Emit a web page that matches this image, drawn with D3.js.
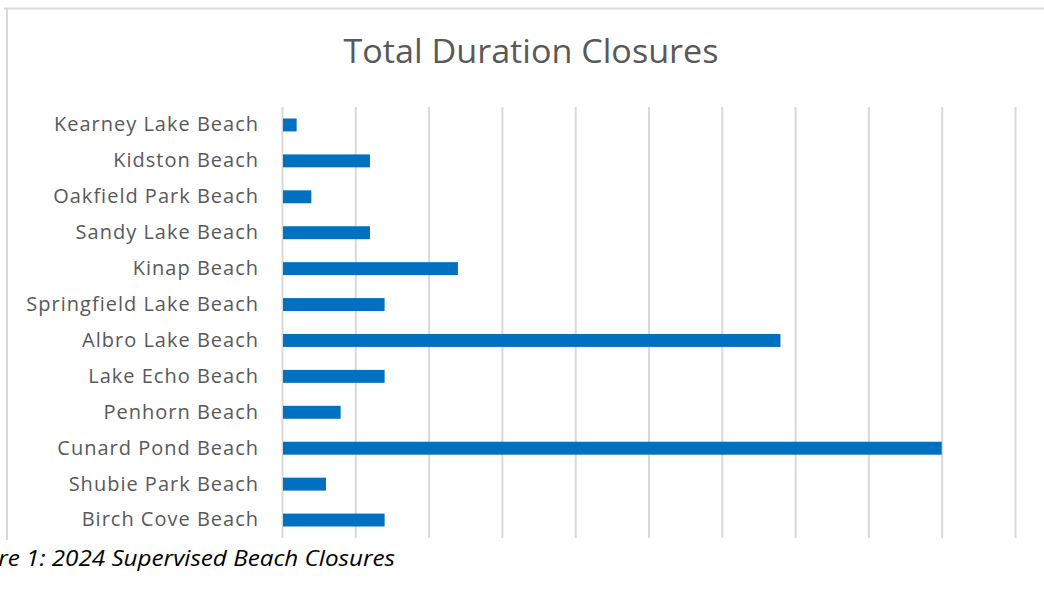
<!DOCTYPE html>
<html>
<head>
<meta charset="utf-8">
<script src="https://cdn.jsdelivr.net/npm/d3@7/dist/d3.min.js"></script>
<style>
  html, body { margin: 0; padding: 0; background: #fff; }
  svg { display: block; }
</style>
</head>
<body>
<svg id="chart" width="1044" height="592"></svg>
<script>
// Beach names, listed top to bottom
const beaches = [
  "Kearney Lake Beach", "Kidston Beach", "Oakfield Park Beach", "Sandy Lake Beach",
  "Kinap Beach", "Springfield Lake Beach", "Albro Lake Beach", "Lake Echo Beach",
  "Penhorn Beach", "Cunard Pond Beach", "Shubie Park Beach", "Birch Cove Beach"
];
// Total closure duration per beach
const durations = [1, 6, 2, 6, 12, 7, 34, 7, 4, 45, 3, 7];
// Gridline positions along the value axis
const gridTicks = [0, 5, 10, 15, 20, 25, 30, 35, 40, 45, 50];

const chartTitle = "Total Duration Closures";
const caption = "Figure 1: 2024 Supervised Beach Closures";

const svg = d3.select("#chart");
const plot = { left: 282, right: 1015, top: 107, bottom: 538 };

const x = d3.scaleLinear().domain([0, 50]).range([plot.left, plot.right]);
const y = d3.scaleBand().domain(beaches).range([plot.top, plot.bottom]).paddingInner(0.64).paddingOuter(0.32);

// Chart frame (top and left edges visible)
svg.append("line").attr("x1", 4).attr("x2", 1044).attr("y1", 8.5).attr("y2", 8.5)
  .attr("stroke", "#d9d9d9").attr("stroke-width", 2);
svg.append("line").attr("x1", 7).attr("x2", 7).attr("y1", 8).attr("y2", 540)
  .attr("stroke", "#d9d9d9").attr("stroke-width", 2);

// Title
svg.append("text")
  .attr("x", 531).attr("y", 63)
  .attr("text-anchor", "middle")
  .attr("font-family", "Open Sans, sans-serif")
  .attr("font-size", 32)
  .attr("fill", "#595959")
  .attr("textLength", 375)
  .attr("lengthAdjust", "spacingAndGlyphs")
  .text(chartTitle);

// Vertical gridlines
const gridAxis = d3.axisBottom(x).tickValues(gridTicks).tickSize(-(plot.bottom - plot.top)).tickFormat("");
const grid = svg.append("g").attr("transform", `translate(0,${plot.bottom})`).call(gridAxis);
grid.select(".domain").remove();
grid.selectAll(".tick line").attr("stroke", "#d9d9d9").attr("stroke-width", 2);

// Bars
svg.append("g").selectAll("rect")
  .data(beaches.map((b, i) => ({ name: b, value: durations[i] })))
  .join("rect")
  .attr("x", x(0) + 1)
  .attr("y", d => y(d.name))
  .attr("width", d => x(d.value) - x(0) - 1)
  .attr("height", y.bandwidth())
  .attr("fill", "#0070c0");

// Category labels
const yAxis = d3.axisLeft(y).tickSize(0).tickPadding(0);
const ya = svg.append("g").attr("transform", `translate(259,0)`).call(yAxis);
ya.select(".domain").remove();
ya.selectAll("text")
  .attr("font-family", "Open Sans, sans-serif")
  .attr("font-size", 20)
  .attr("letter-spacing", 1)
  .attr("fill", "#595959");

// Figure caption
svg.append("text")
  .attr("x", 395).attr("y", 566)
  .attr("text-anchor", "end")
  .attr("font-family", "Open Sans, sans-serif")
  .attr("font-style", "italic")
  .attr("font-size", 22)
  .attr("fill", "#000")
  .attr("textLength", 441)
  .attr("lengthAdjust", "spacingAndGlyphs")
  .text(caption);
</script>
</body>
</html>
